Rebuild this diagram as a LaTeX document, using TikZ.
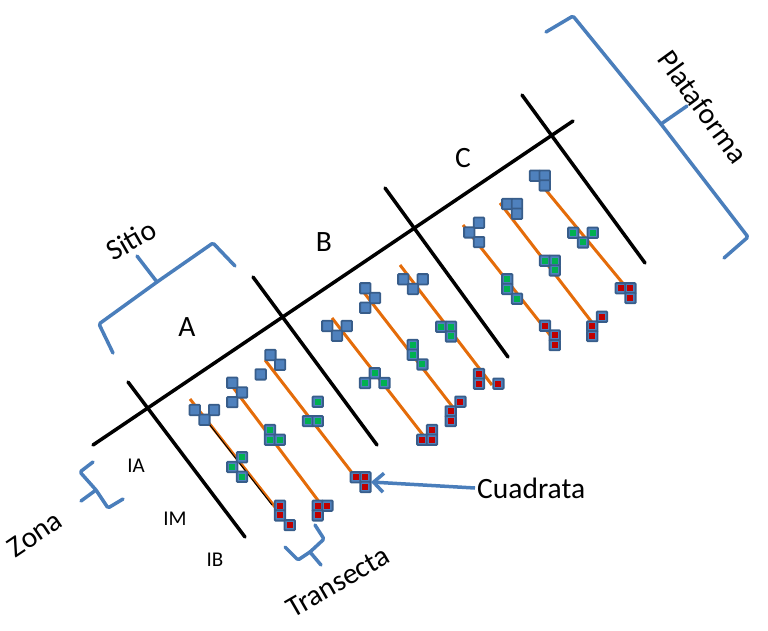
\documentclass[tikz,border=0pt]{standalone}
\usepackage{fontspec}
\setmainfont{Carlito}
\usetikzlibrary{arrows.meta}

\definecolor{qblue}{HTML}{4F81BD}
\definecolor{qborde}{HTML}{385D8A}
\definecolor{qverde}{HTML}{00B050}
\definecolor{qrojo}{HTML}{C00000}
\definecolor{naranja}{HTML}{E46C0A}
\definecolor{llave}{HTML}{4A7EBB}

\tikzset{
  linea/.style={line width=3.5pt, line cap=round},
  transecta/.style={naranja, line width=3pt},
  celda/.style={fill=qblue, draw=qborde, line width=1.8pt, rounded corners=0.8pt},
  llaves/.style={llave, line width=3.5pt, line cap=round, line join=round, rounded corners=1.5pt},
  etiq/.style={inner sep=2pt, font=\fontsize{29.5}{34}\selectfont},
  zona/.style={inner sep=1pt, font=\fontsize{21}{25}\selectfont}
}

% one quadrat cell: centre (#1,#2), inner colour #3
\newcommand{\celda}[3]{%
  \draw[celda] ({#1-5.2},{#2-5.2}) rectangle ({#1+5.2},{#2+5.2});
  \fill[#3] ({#1-3},{#2-3}) rectangle ({#1+3},{#2+3});}
% group of cells on a 9.7 grid from anchor (#1,#2)
\newcommand{\grupo}[4]{%
  \foreach \gi/\gj in {#4} {\celda{#1+\gi*9.7}{#2+\gj*9.7}{#3}}}

\begin{document}
\begin{tikzpicture}[x=1pt, y=-1pt]
    \useasboundingbox (0,0) rectangle (768,630);

    % Coast line and site limits.
    \draw[linea] (93,445) -- (573,121);
    \draw[linea] (128,382) -- (245,537);
    \draw[linea] (253,277) -- (377,445);
    \draw[linea] (385,188) -- (508,357);
    \draw[linea] (522,95) -- (645,263);

    % Transects, three per site.
    \draw[transecta] (190,399) -- (275,507);
    \draw[black, line width=1pt] (206,420) -- (272,505);
    \draw[transecta] (229,382) -- (320,503);
    \draw[transecta] (265,360) -- (353,474);
    \draw[transecta] (332,318) -- (423,435);
    \draw[transecta] (362,290) -- (455,410);
    \draw[transecta] (400,265) -- (492,385);
    \draw[transecta] (463,225) -- (550,335);
    \draw[transecta] (500,203) -- (594,325);
    \draw[transecta] (540,183) -- (635,298);

    % Site A quadrats (IA blue, IM green, IB red).
    \grupo{194.7}{410}{qblue}{0/0,2/0,1/1}
    \grupo{232.3}{382.7}{qblue}{0/0,1/1,0/2}
    \grupo{260.7}{355}{qblue}{1/0,2/1,0/2}
    \grupo{232.3}{457.3}{qverde}{1/0,0/1,1/2}
    \grupo{270}{430}{qverde}{0/0,0/1,1/1}
    \grupo{308}{401.7}{qverde}{1/0,0/2,1/2}
    \grupo{280}{505.7}{qrojo}{0/0,0/1,1/2}
    \grupo{317.7}{505.7}{qrojo}{0/0,1/0,0/1}
    \grupo{355.7}{477.3}{qrojo}{0/0,1/0,1/1}

    % Site B quadrats.
    \grupo{327.3}{326}{qblue}{0/0,2/0,1/1}
    \grupo{365.3}{288.3}{qblue}{0/0,1/1,0/2}
    \grupo{403.3}{279.3}{qblue}{0/0,2/0,1/1}
    \grupo{365}{373.3}{qverde}{1/0,0/1,2/1}
    \grupo{412.7}{345}{qverde}{0/0,0/1,1/2}
    \grupo{441.3}{326.7}{qverde}{0/0,1/0,1/1}
    \grupo{422.3}{430}{qrojo}{1/0,0/1,1/1}
    \grupo{450.7}{401.7}{qrojo}{1/0,0/1,0/2}
    \grupo{479}{374}{qrojo}{0/0,0/1,2/1}

    % Site C quadrats.
    \grupo{469.3}{222.7}{qblue}{1/0,0/1,1/2}
    \grupo{507.3}{204}{qblue}{0/0,1/0,1/1}
    \grupo{535}{175.7}{qblue}{0/0,1/0,1/1}
    \grupo{507.3}{279.3}{qverde}{0/0,0/1,1/2}
    \grupo{545}{260.7}{qverde}{0/0,1/0,1/1}
    \grupo{573.3}{232.7}{qverde}{0/0,2/0,1/1}
    \grupo{545}{325.7}{qrojo}{0/0,1/1,1/2}
    \grupo{592.3}{316.7}{qrojo}{1/0,0/1,0/2}
    \grupo{620.7}{288.3}{qrojo}{0/0,1/0,1/1}

    % Braces.
    \draw[llaves] (113,353) -- (99,324) -- (157,282) -- (213,243) -- (235,266);
    \draw[llaves] (157,282) -- (137,256);
    \draw[llaves] (546,32) -- (573,16) -- (661,124) -- (748,237) -- (724,258);
    \draw[llaves] (661,124) -- (687,106);
    \draw[llaves] (93,462) -- (80,472) -- (96,490) -- (108,508) -- (123,499);
    \draw[llaves] (96,490) -- (81,501);
    \draw[llaves] (315,525) -- (324,539) -- (310,552) -- (298,560) -- (285,547);
    \draw[llaves] (310,552) -- (321,565);

    % Labels.
    \node[etiq] (sitioA) at (187,327) {A};
    \node[etiq] (sitioB) at (324,242) {B};
    \node[etiq] (sitioC) at (463,158) {C};
    \node[zona] (ia) at (136,466) {IA};
    \node[zona] (im) at (175,519) {IM};
    \node[zona] (ib) at (215,560) {IB};
    \node[etiq, rotate=30] (sitio) at (131,240) {Sitio};
    \node[etiq, rotate=-54] (plataforma) at (703,107) {Plataforma};
    \node[etiq, rotate=34] (zonalab) at (35,534) {Zona};
    \node[etiq, rotate=30] (transectalab) at (338,582) {Transecta};
    \node[etiq, anchor=west] (cuadratalab) at (475,488) {Cuadrata};

    % Arrow to one quadrat.
    \coordinate (cuadrata) at (371,482);
    \draw[llave, line width=3.5pt, -{Straight Barb[length=10pt, width=19pt]}]
      (cuadratalab.west) -- (cuadrata);
  \end{tikzpicture}
\end{document}
